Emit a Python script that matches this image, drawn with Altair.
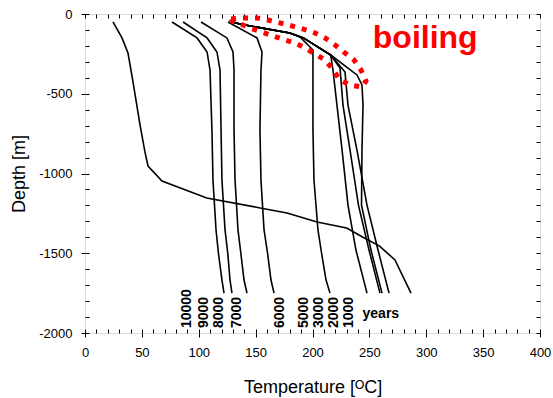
import altair as alt
import pandas as pd

# ---- data ----
years = ["10000", "9000", "8000", "7000", "6000", "5000", "3000", "2000", "1000"]

d_cold = [-50, -150, -238, -351, -727, -1041, -1354, -1500, -1668, -1750]
t_10000 = [76.5, 98.5, 107.3, 109.9, 111.6, 112.5, 115.2, 117.3, 120.4, 122.2]
t_9000 = [86.2, 107.3, 116.0, 118.7, 119.6, 120.4, 123.1, 125.5, 127.5, 129.2]
t_8000 = [102.0, 124.8, 130.1, 131.0, 131.0, 131.9, 134.5, 137.0, 139.8, 142.4]
t_7000 = [125.7, 151.2, 155.6, 154.7, 153.8, 154.7, 157.4, 160.5, 163.5, 166.2]

t_6000 = [130, 136, 180, 189, 200.4, 200.4, 201.3, 204.8, 208, 211.9, 215.4]
d_6000 = [-50, -63, -119, -144, -226, -727, -1041, -1354, -1500, -1668, -1750]

t_5000 = [130, 136, 180, 192, 216, 218, 221.5, 226, 231.2, 238.2, 247.9]
d_5000 = [-50, -63, -119, -150, -257, -351, -571, -853, -1198, -1480, -1750]
t_3000 = [130, 136, 180, 192, 216, 224.2, 226.8, 233, 240.4, 249.7, 259.3]
d_3000 = [-50, -63, -119, -150, -257, -339, -571, -853, -1198, -1480, -1750]
t_2000 = [130, 136, 180, 192, 216, 228.6, 231.2, 239.1, 247.9, 257.6, 267.3]
d_2000 = [-50, -63, -119, -150, -257, -364, -571, -853, -1198, -1480, -1750]
t_1000 = [130, 136, 180, 192, 216, 239.1, 243.5, 244.4, 243.5, 243.1, 251.4, 261.1]
d_1000 = [-50, -63, -119, -150, -257, -382, -445, -571, -853, -1198, -1480, -1750]

t_init = [24.6, 32.5, 37.8, 42.2, 48.4, 52.7, 55.4, 67.7, 107, 154, 177.6, 204, 230,
          244, 259, 272.5, 286.6]
d_init = [-50, -150, -245, -426, -696, -865, -953, -1047, -1154, -1216, -1248, -1304,
          -1342, -1398, -1455, -1542, -1750]

loop_t = [128.4, 138.9, 151.2, 160.9, 171.4, 182.0, 191.6, 202.2, 211.0, 219.8, 228.6,
          236.5, 242.6, 247.0, 243.5, 233.0, 224.2, 217.6, 211.0, 202.2, 193.4, 184.6,
          175.8, 165.3, 155.6, 145.1, 134.5, 129.2, 128.4]
loop_d = [-31, -25, -25, -38, -56, -75, -94, -119, -150, -194, -245, -288, -351, -420,
          -458, -445, -414, -345, -288, -251, -213, -182, -163, -138, -113, -88, -56,
          -44, -31]

label_t = [89.7, 104.6, 117.8, 133.6, 171.4, 192.5, 205.7, 218.9, 232.1]
label_d = -1969
years_word = "years"
years_t = 244.0
years_d = -1880
boil_word = "boiling"
boil_t = 253.0
boil_d = -213

x_major = list(range(0, 401, 50))
x_minor = list(range(0, 401, 10))
y_major = list(range(-2000, 1, 500))
y_minor = list(range(-2000, 1, 100))

# ---- tables ----
series = [
    ("10000", t_10000, d_cold), ("9000", t_9000, d_cold), ("8000", t_8000, d_cold),
    ("7000", t_7000, d_cold), ("6000", t_6000, d_6000), ("5000", t_5000, d_5000),
    ("3000", t_3000, d_3000), ("2000", t_2000, d_2000), ("1000", t_1000, d_1000),
    ("initial", t_init, d_init),
]
rows = []
for name, ts, ds in series:
    for i, (t, d) in enumerate(zip(ts, ds)):
        rows.append({"series": name, "i": i, "T": t, "D": d})
curves = pd.DataFrame(rows)
loop = pd.DataFrame({"i": range(len(loop_t)), "T": loop_t, "D": loop_d})
labels = pd.DataFrame({"txt": years, "T": label_t, "D": [label_d] * len(years)})
yrs = pd.DataFrame({"txt": [years_word], "T": [years_t], "D": [years_d]})
boil = pd.DataFrame({"txt": [boil_word], "T": [boil_t], "D": [boil_d]})

W, H = 455, 319
FONT = "Liberation Sans"
xs = alt.Scale(domain=[0, 400], nice=False, zero=False)
ys = alt.Scale(domain=[-2000, 0], nice=False, zero=False)

x_main = alt.Axis(values=x_major, tickSize=4, domain=False, grid=False, labelFont=FONT,
                  labelFontSize=13, labelColor="black", labelPadding=9, tickColor="black",
                  labelExpr="'' + datum.value", labelFlush=False, labelOverlap=False,
                  title="Temperature [ᴼC]", titleFont=FONT, titleFontSize=18,
                  titleFontWeight="normal", titleColor="black", titlePadding=19)
y_main = alt.Axis(values=y_major, tickSize=4, domain=False, grid=False, labelFont=FONT,
                  labelFontSize=13, labelColor="black", labelPadding=9, tickColor="black",
                  labelExpr="'' + datum.value", labelFlush=False, labelOverlap=False,
                  title="Depth [m]", titleFont=FONT, titleFontSize=18,
                  titleFontWeight="normal", titleColor="black", titlePadding=10)


def tick_axis(vals, orient, offset):
    return alt.Axis(values=vals, orient=orient, offset=offset, tickSize=4, labels=False,
                    domain=False, grid=False, tickColor="black", title="")


lines = alt.Chart(curves).mark_line(color="black", strokeWidth=1.6).encode(
    x=alt.X("T:Q", scale=xs, axis=x_main),
    y=alt.Y("D:Q", scale=ys, axis=y_main),
    detail="series:N",
    order="i:Q",
)

ticks_bl = alt.Chart(curves).mark_point(opacity=0).encode(
    x=alt.X("T:Q", scale=xs, axis=tick_axis(x_minor, "top", -H)),
    y=alt.Y("D:Q", scale=ys, axis=tick_axis(y_minor, "right", -W)),
)
ticks_tr = alt.Chart(curves).mark_point(opacity=0).encode(
    x=alt.X("T:Q", scale=xs, axis=tick_axis(x_minor, "bottom", -H)),
    y=alt.Y("D:Q", scale=ys, axis=tick_axis(y_minor, "left", -W)),
)

ring = alt.Chart(loop).mark_line(color="#ff0000", strokeWidth=5, strokeDash=[5, 7],
                                 strokeCap="butt").encode(
    x=alt.X("T:Q", scale=xs, axis=None), y=alt.Y("D:Q", scale=ys, axis=None), order="i:Q")

year_text = alt.Chart(labels).mark_text(angle=270, align="left", baseline="middle",
                                        font=FONT, fontSize=14, fontWeight="bold",
                                        color="black").encode(
    x=alt.X("T:Q", scale=xs, axis=None), y=alt.Y("D:Q", scale=ys, axis=None), text="txt:N")
years_text = alt.Chart(yrs).mark_text(align="left", baseline="middle", font=FONT,
                                      fontSize=14, fontWeight="bold",
                                      color="black").encode(
    x=alt.X("T:Q", scale=xs, axis=None), y=alt.Y("D:Q", scale=ys, axis=None), text="txt:N")
boil_text = alt.Chart(boil).mark_text(align="left", baseline="alphabetic", font=FONT,
                                      fontSize=32, fontWeight="bold",
                                      color="#ff0000").encode(
    x=alt.X("T:Q", scale=xs, axis=None), y=alt.Y("D:Q", scale=ys, axis=None), text="txt:N")

chart = alt.layer(lines, ticks_bl, ticks_tr, ring, year_text, years_text, boil_text).resolve_axis(
    x="independent", y="independent"
).properties(
    width=W, height=H,
    autosize=alt.AutoSizeParams(type="none"),
    padding={"left": 85, "top": 14, "right": 13, "bottom": 65},
).configure_view(stroke="black", strokeWidth=2).configure(background="white")

chart.save("out.html", embed_options={"renderer": "svg", "actions": False})
